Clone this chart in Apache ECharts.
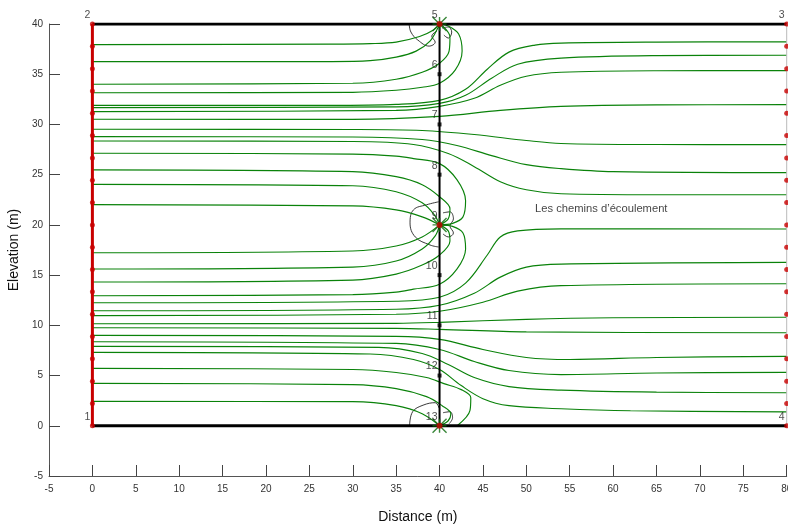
<!DOCTYPE html>
<html>
<head>
<meta charset="utf-8">
<script src="https://cdn.jsdelivr.net/npm/echarts@6/dist/echarts.min.js"></script>
<style>html,body{margin:0;padding:0;background:#fff;}#c{width:788px;height:527px;}</style>
</head>
<body>
<div id="c"></div>
<script>
// ---- axes ----
const xRange = [-5, 80];
const yRange = [-5, 40];
const tickStep = 5;

// ---- model geometry ----
const topEdge = [[0, 40], [80, 40]];
const bottomEdge = [[0, 0], [80, 0]];
const wellLine = [[40, 0], [40, 40]];
const leftEdge = [[0, 0], [0, 40]];
const rightEdge = [[80, 0], [80, 40]];
const edgeNodeYs = [0, 2.222, 4.444, 6.667, 8.889, 11.111, 13.333, 15.556, 17.778, 20, 22.222, 24.444, 26.667, 28.889, 31.111, 33.333, 35.556, 37.778, 40];
const sinkPoints = [[40, 40], [40, 20], [40, 0]];
const wellNodes = [[40, 35], [40, 30], [40, 25], [40, 15], [40, 10], [40, 5]];
const pointNames = ['1', '2', '3', '4', '5', '6', '7', '8', '9', '10', '11', '12', '13'];
const pointCoords = [[0, 0], [0, 40], [80, 40], [80, 0], [40, 40], [40, 35], [40, 30], [40, 25], [40, 20], [40, 15], [40, 10], [40, 5], [40, 0]];
const noteText = 'Les chemins d\u2019\u00e9coulement';
const notePos = [51.0, 21.6];

// ---- flow paths (x, y) ----
const pathA1 = [[0,37.95],[27.4,38.0],[32,38.05],[35,38.2],[37.7,38.75],[39.3,39.4],[40,40]];
const pathA2 = [[0,36.25],[27.4,36.26],[32,36.35],[35,36.7],[37.3,37.3],[38.9,38.3],[39.8,39.6],[40,40]];
const pathA3 = [[0,34.0],[30,34.1],[35,34.5],[38,35.2],[40,36.1],[41.1,37.3],[41.2,38.7],[40.6,39.6],[40,40]];
const pathA4 = [[0,33.16],[30,33.2],[35,33.4],[38,33.7],[40,34.1],[41.8,35.4],[42.6,37.3],[42.2,39.0],[41,39.8],[40,40]];
const pathT1 = [[0,31.9],[27.4,31.9],[35,32.0],[40,32.4],[43,33.5],[45.5,35.5],[48,37.2],[51,37.9],[54,38.1],[65,38.2],[80,38.22]];
const pathT2 = [[0,31.67],[35,31.75],[40,32.1],[43,32.9],[46,34.6],[49,36.0],[54,36.6],[65,36.85],[80,36.89]];
const pathT3 = [[0,31.27],[35,31.4],[40,31.8],[44,32.6],[47,33.9],[50,34.8],[54,35.2],[65,35.35],[80,35.36]];
const pathT4 = [[0,30.52],[30,30.5],[40,30.8],[47,31.4],[54,31.8],[65,31.95],[80,31.97]];
const pathT5 = [[0,29.52],[30,29.5],[38,29.4],[44,29.0],[50,28.4],[54,28.1],[65,28.0],[80,27.99]];
const pathT6 = [[0,28.79],[30,28.75],[38,28.5],[42,27.9],[46,26.9],[50,26.0],[54,25.6],[60,25.3],[80,25.2]];
const pathT7 = [[0,28.35],[30,28.3],[37,28.0],[41,27.1],[44,25.8],[47,24.3],[50,23.5],[54,23.1],[65,23.0],[80,23.0]];
const pathM1 = [[0,27.13],[30,27.05],[35,26.85],[37,26.6],[40,26.1],[42,24.5],[43,22.4],[42.7,20.8],[41.5,20.15],[40,20]];
const pathM2 = [[0,25.47],[30,25.3],[35,24.8],[38,24.0],[40,22.8],[41.2,21.6],[41,20.6],[40,20]];
const pathM3 = [[0,24.04],[30,23.9],[35,23.3],[38,22.2],[39.4,21.0],[40,20]];
const pathM4 = [[0,22.01],[30,21.9],[35,21.5],[38,20.8],[40,20]];
const pathN1 = [[0,17.23],[30,17.4],[35,17.9],[38,18.8],[40,20]];
const pathN2 = [[0,15.61],[30,15.8],[35,16.4],[38,17.6],[39.5,18.9],[40,20]];
const pathN3 = [[0,14.31],[30,14.5],[35,15.1],[38,16.0],[40,17.0],[41.2,18.4],[41,19.4],[40,20]];
const pathN4 = [[0,12.95],[30,13.05],[35,13.3],[37,13.6],[40,14.1],[42,15.6],[43,17.6],[42.7,19.2],[41.5,19.85],[40,20]];
const pathU1 = [[0,12.25],[35,12.4],[40,12.8],[43,14.2],[45.5,17.0],[47,18.8],[49,19.4],[54,19.6],[80,19.59]];
const pathU2 = [[0,11.45],[35,11.6],[40,12.0],[44,13.2],[47,14.8],[50,15.8],[54,16.1],[80,16.27]];
const pathU3 = [[0,10.96],[35,11.1],[40,11.4],[45,12.3],[49,13.4],[54,13.95],[80,14.14]];
const pathU4 = [[0,10.16],[35,10.2],[40,10.3],[50,10.6],[60,10.75],[80,10.8]];
const pathU5 = [[0,9.76],[35,9.7],[40,9.6],[50,9.35],[80,9.26]];
const pathU6 = [[0,9.0],[35,8.9],[40,8.6],[45,7.6],[50,6.8],[55,6.6],[65,6.8],[80,6.91]];
const pathU7 = [[0,8.37],[35,8.2],[40,7.6],[44,6.4],[48,5.5],[54,5.1],[65,5.25],[80,5.32]];
const pathU8 = [[0,7.91],[33,7.8],[38,7.2],[41,6.1],[44,4.8],[48,3.9],[54,3.55],[65,3.35],[80,3.29]];
const pathU9 = [[0,7.31],[32,7.15],[37,6.6],[40,5.6],[42.5,4.0],[45,2.7],[48,2.0],[54,1.7],[62,1.5],[80,1.39]];
const pathB1 = [[0,5.72],[30,5.6],[35,5.3],[38.5,4.8],[40.5,4.2],[42.5,3.6],[43.6,2.8],[43.5,1.5],[42.1,0.05]];
const pathB2 = [[0,4.22],[30,4.1],[35,3.7],[38.5,2.9],[40.3,2.0],[41.3,1.2],[41,0.5],[40,0]];
const pathB3 = [[0,2.43],[30,2.4],[35,2.0],[38,1.2],[40,0]];
const flowPaths = [pathA1,pathA2,pathA3,pathA4,pathT1,pathT2,pathT3,pathT4,pathT5,pathT6,pathT7,
  pathM1,pathM2,pathM3,pathM4,pathN1,pathN2,pathN3,pathN4,
  pathU1,pathU2,pathU3,pathU4,pathU5,pathU6,pathU7,pathU8,pathU9,pathB1,pathB2,pathB3];

// ---- small black contour blobs near sinks ----
const blobTop = [[36.5,40],[36.7,39.2],[37.5,38.4],[38.8,37.8],[39.5,38.2],[39.1,38.8],[39.7,39.3]];
const blobTopR = [[40.3,39.6],[41.0,39.7],[41.4,39.2],[41.0,38.6],[40.5,38.9]];
const blobMid = [[39.9,22.3],[38.5,22.0],[37.0,21.5],[36.6,20.2],[37.2,18.8],[38.9,18.0],[39.9,17.8]];
const blobMidR = [[40.4,21.2],[41.2,21.3],[41.6,20.6],[41.2,19.9],[41.6,19.2],[41.0,18.8],[40.4,19.1]];
const blobBot = [[36.55,0.05],[36.9,1.4],[38.1,2.05],[39.5,2.3],[39.95,1.76]];
const blobBotR = [[40.4,1.3],[41.2,1.4],[41.5,0.8],[41.1,0.2]];
const blobs = [blobTop, blobTopR, blobMid, blobMidR, blobBot, blobBotR];

const chart = echarts.init(document.getElementById('c'), null, {renderer: 'canvas'});
const FONT = 'Liberation Sans, Arial, sans-serif';
const series = [];
flowPaths.forEach(p => series.push({
  type: 'line', data: p, showSymbol: false, smooth: 0.35, silent: true,
  lineStyle: {color: '#0a820a', width: 1.15}, z: 3
}));
blobs.forEach(p => series.push({
  type: 'line', data: p, showSymbol: false, smooth: 0.4, silent: true,
  lineStyle: {color: '#222', width: 0.9}, z: 2
}));
series.push({type: 'line', data: topEdge, showSymbol: false, lineStyle: {color: '#000', width: 3}, z: 5});
series.push({type: 'line', data: bottomEdge, showSymbol: false, lineStyle: {color: '#000', width: 3}, z: 5});
series.push({type: 'line', data: wellLine, showSymbol: false, lineStyle: {color: '#000', width: 2}, z: 5});
series.push({type: 'line', data: leftEdge, showSymbol: false, lineStyle: {color: '#c80000', width: 3}, z: 6});
series.push({type: 'line', data: rightEdge, showSymbol: false, lineStyle: {color: '#bbbbbb', width: 1}, z: 6});
series.push({type: 'scatter', data: sinkPoints, symbol: 'path://M0,0L10,10M10,0L0,10M5,0L5,10M0,5L10,5',
  symbolSize: 14, itemStyle: {color: 'none', borderColor: '#0a6a0a', borderWidth: 1.4}, z: 7, silent: true});
series.push({type: 'scatter', data: edgeNodeYs.map(y => [0, y]).concat(edgeNodeYs.map(y => [80, y])),
  symbol: 'circle', symbolSize: 5, itemStyle: {color: '#c80000'}, z: 7});
series.push({type: 'scatter', data: wellNodes, symbol: 'rect', symbolSize: 4, itemStyle: {color: '#000'}, z: 7});
series.push({type: 'scatter', data: sinkPoints, symbol: 'circle', symbolSize: 6, itemStyle: {color: '#c80000'}, z: 8});
series.push({type: 'scatter', data: pointCoords.map((c, i) => ({value: c, name: pointNames[i]})),
  symbolSize: 0, z: 9, silent: true,
  label: {show: true, position: 'left', offset: [3, -9], formatter: '{b}',
    fontFamily: FONT, fontSize: 10.5, color: '#222'}});
series.push({type: 'scatter', data: [{value: notePos, name: noteText}], symbolSize: 0, z: 9, silent: true,
  label: {show: true, position: 'right', distance: 0, formatter: '{b}', fontFamily: FONT, fontSize: 11.2, color: '#111'}});

chart.setOption({
  animation: false,
  backgroundColor: '#fff',
  grid: {left: 49, right: 1.3, top: 24, bottom: 51, containLabel: false, outerBoundsMode: 'none'},
  xAxis: {
    type: 'value', min: xRange[0], max: xRange[1], interval: tickStep,
    name: 'Distance (m)', nameLocation: 'middle', nameGap: 34,
    nameTextStyle: {fontFamily: FONT, fontSize: 14, color: '#111'},
    axisLine: {show: true, onZero: false, lineStyle: {color: '#555', width: 1}},
    axisTick: {show: true, inside: true, length: 11, lineStyle: {color: '#444'}},
    axisLabel: {fontFamily: FONT, fontSize: 10, color: '#333', margin: 8},
    splitLine: {show: false}
  },
  yAxis: {
    type: 'value', min: yRange[0], max: yRange[1], interval: tickStep,
    name: 'Elevation (m)', nameLocation: 'middle', nameGap: 28, nameRotate: 90,
    nameTextStyle: {fontFamily: FONT, fontSize: 14, color: '#111'},
    axisLine: {show: true, onZero: false, lineStyle: {color: '#555', width: 1}},
    axisTick: {show: true, inside: true, length: 11, lineStyle: {color: '#444'}},
    axisLabel: {fontFamily: FONT, fontSize: 10, color: '#333', margin: 6},
    splitLine: {show: false}
  },
  series: series
});
</script>
</body>
</html>
